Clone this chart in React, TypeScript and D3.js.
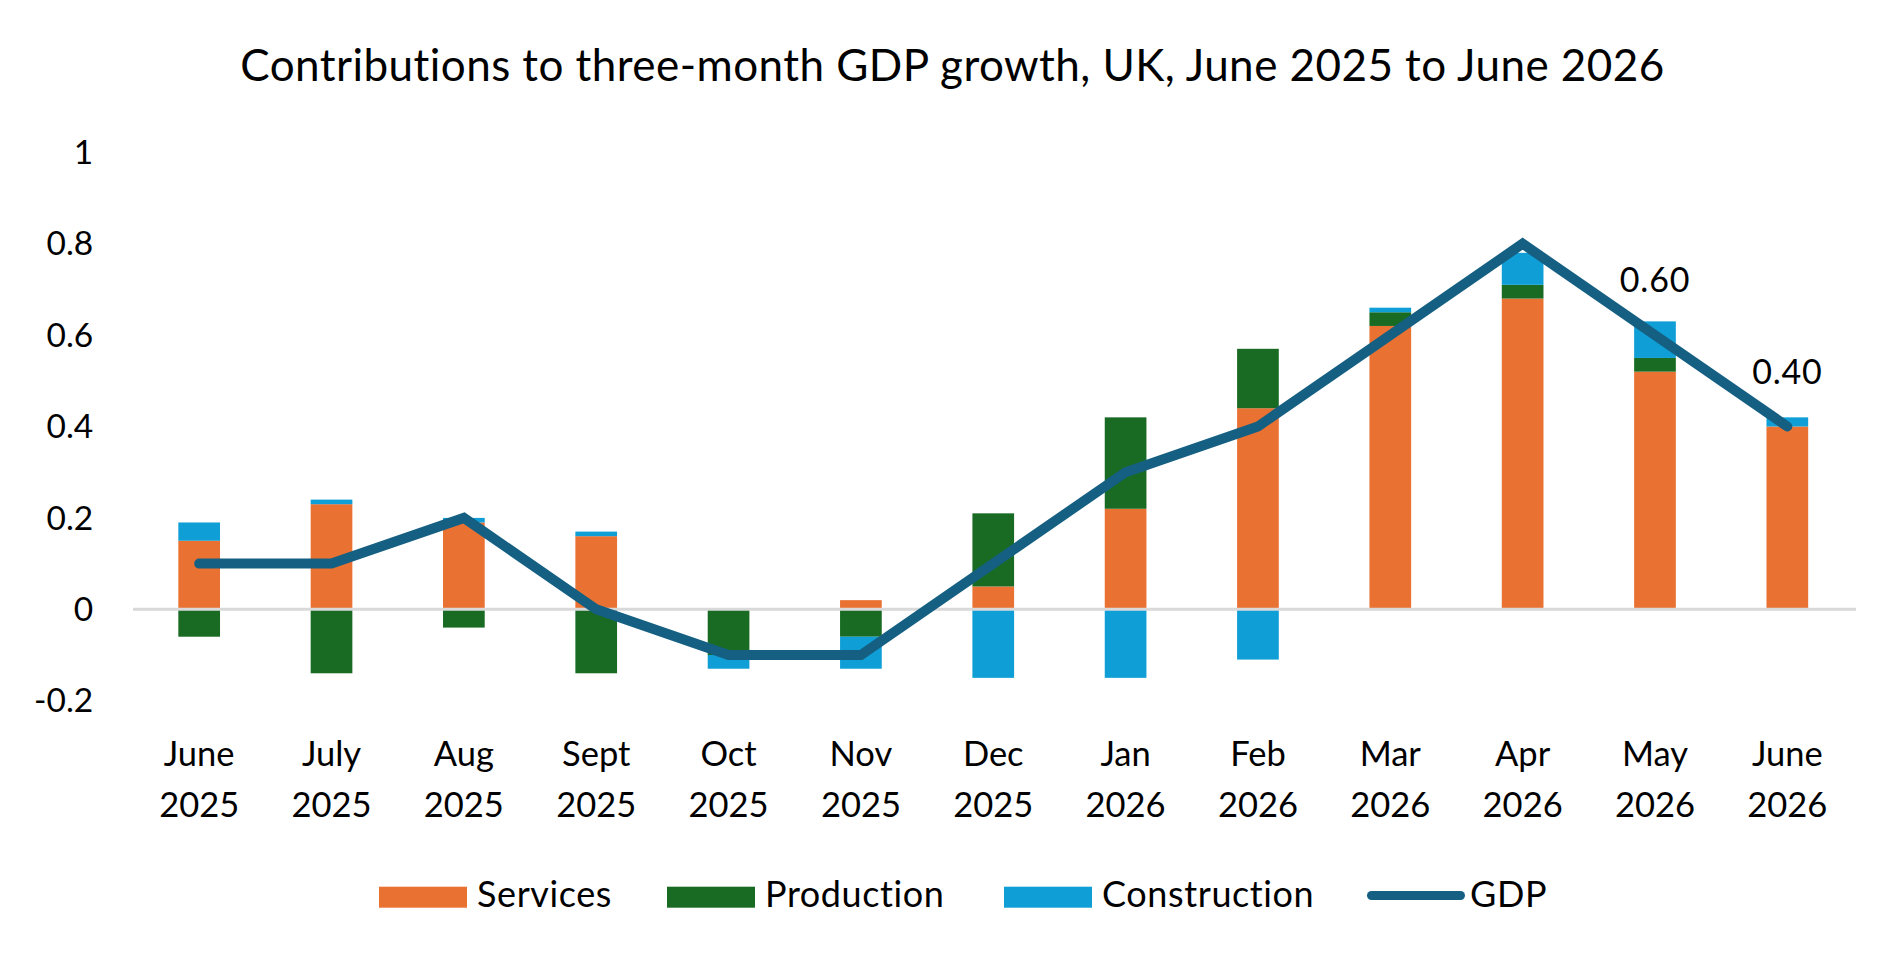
import React, { useEffect, useMemo } from "react";
import * as d3 from "d3";

// Month labels (two lines) and series values
const months = ["June", "July", "Aug", "Sept", "Oct", "Nov", "Dec", "Jan", "Feb", "Mar", "Apr", "May", "June"];
const years = ["2025", "2025", "2025", "2025", "2025", "2025", "2025", "2026", "2026", "2026", "2026", "2026", "2026"];

const services = [0.15, 0.23, 0.19, 0.16, 0, 0.02, 0.05, 0.22, 0.44, 0.62, 0.68, 0.52, 0.4];
const production = [-0.06, -0.14, -0.04, -0.14, -0.1, -0.06, 0.16, 0.2, 0.13, 0.03, 0.03, 0.03, 0];
const construction = [0.04, 0.01, 0.01, 0.01, -0.03, -0.07, -0.15, -0.15, -0.11, 0.01, 0.07, 0.08, 0.02];
const gdp = [0.1, 0.1, 0.2, 0, -0.1, -0.1, 0.1, 0.3, 0.4, 0.6, 0.8, 0.6, 0.4];
const gdpLabelShown = [false, false, false, false, false, false, false, false, false, false, false, true, true];

const seriesKeys = ["Services", "Production", "Construction"];
const seriesColors = ["#e97132", "#196b24", "#0f9ed5"];
const lineColor = "#156082";

const yTicks = [-0.2, 0, 0.2, 0.4, 0.6, 0.8, 1];

const WIDTH = 1904;
const HEIGHT = 962;
const FONT = "Lato, 'Open Sans', sans-serif";

export default function App() {
  useEffect(() => {
    document.body.style.margin = "0";
  }, []);

  const categories = months.map((m, i) => `${m} ${years[i]}`);

  const x = d3.scaleBand<string>().domain(categories).range([133, 1853.5]).paddingInner(0.685).paddingOuter(0.3425);
  const y = d3.scaleLinear().domain([-0.2, 1]).range([700.7, 152.3]);

  const rows = useMemo(
    () =>
      categories.map((c, i) => ({
        key: c,
        Services: services[i],
        Production: production[i],
        Construction: construction[i],
      })),
    []
  );

  const stacked = d3
    .stack<any>()
    .keys(seriesKeys)
    .offset(d3.stackOffsetDiverging)(rows);

  const cx = (c: string) => (x(c) ?? 0) + x.bandwidth() / 2;

  const line = d3
    .line<number>()
    .x((_, i) => cx(categories[i]))
    .y((d) => y(d));

  const legendItems = [
    { label: "Services", color: seriesColors[0], x: 379, type: "rect" },
    { label: "Production", color: seriesColors[1], x: 667, type: "rect" },
    { label: "Construction", color: seriesColors[2], x: 1004, type: "rect" },
    { label: "GDP", color: lineColor, x: 1367, type: "line" },
  ];

  return (
    <svg width={WIDTH} height={HEIGHT} style={{ display: "block", background: "#fff" }} fontFamily={FONT}>
      <rect width={WIDTH} height={HEIGHT} fill="#fff" />
      <text x={952.5} y={81} textAnchor="middle" fontSize={44} letterSpacing={0.45} fill="#000">
        Contributions to three-month GDP growth, UK, June 2025 to June 2026
      </text>

      {/* y axis labels */}
      <g>
        {yTicks.map((t) => (
          <text key={t} x={93.3} y={y(t)} dy="0.35em" textAnchor="end" fontSize={33.5} fill="#000">
            {String(+t.toFixed(1))}
          </text>
        ))}
      </g>

      {/* stacked bars */}
      {stacked.map((s, si) => (
        <g key={s.key} fill={seriesColors[si]}>
          {s.map((d, i) => {
            const y0 = y(d[0]);
            const y1 = y(d[1]);
            return (
              <rect
                key={i}
                x={x(categories[i])}
                width={x.bandwidth()}
                y={Math.min(y0, y1)}
                height={Math.abs(y0 - y1)}
              />
            );
          })}
        </g>
      ))}

      {/* zero line */}
      <line x1={133} x2={1856} y1={y(0)} y2={y(0)} stroke="#d9d9d9" strokeWidth={3} />

      {/* GDP line */}
      <path
        d={line(gdp) ?? ""}
        fill="none"
        stroke={lineColor}
        strokeWidth={10}
        strokeLinecap="round"
        strokeLinejoin="miter"
      />

      {/* data labels */}
      {gdp.map((v, i) =>
        gdpLabelShown[i] ? (
          <text key={i} x={cx(categories[i])} y={y(v) - 43} textAnchor="middle" fontSize={34} letterSpacing={0.8} fill="#000">
            {v.toFixed(2)}
          </text>
        ) : null
      )}

      {/* x axis labels */}
      {categories.map((c, i) => (
        <text key={c} x={cx(c)} textAnchor="middle" fontSize={34.5} fill="#000">
          <tspan x={cx(c)} y={766}>
            {months[i]}
          </tspan>
          <tspan x={cx(c)} y={817}>
            {years[i]}
          </tspan>
        </text>
      ))}

      {/* legend */}
      <g>
        {legendItems.map((it) => (
          <g key={it.label}>
            {it.type === "rect" ? (
              <rect x={it.x} y={886.7} width={88} height={21} fill={it.color} />
            ) : (
              <line
                x1={it.x + 4.5}
                x2={it.x + 93.5}
                y1={895.5}
                y2={895.5}
                stroke={it.color}
                strokeWidth={9}
                strokeLinecap="round"
              />
            )}
            <text
              x={it.type === "rect" ? it.x + 98 : it.x + 103}
              y={906.7}
              fontSize={36}
              letterSpacing={0.6}
              fill="#000"
            >
              {it.label}
            </text>
          </g>
        ))}
      </g>
    </svg>
  );
}
